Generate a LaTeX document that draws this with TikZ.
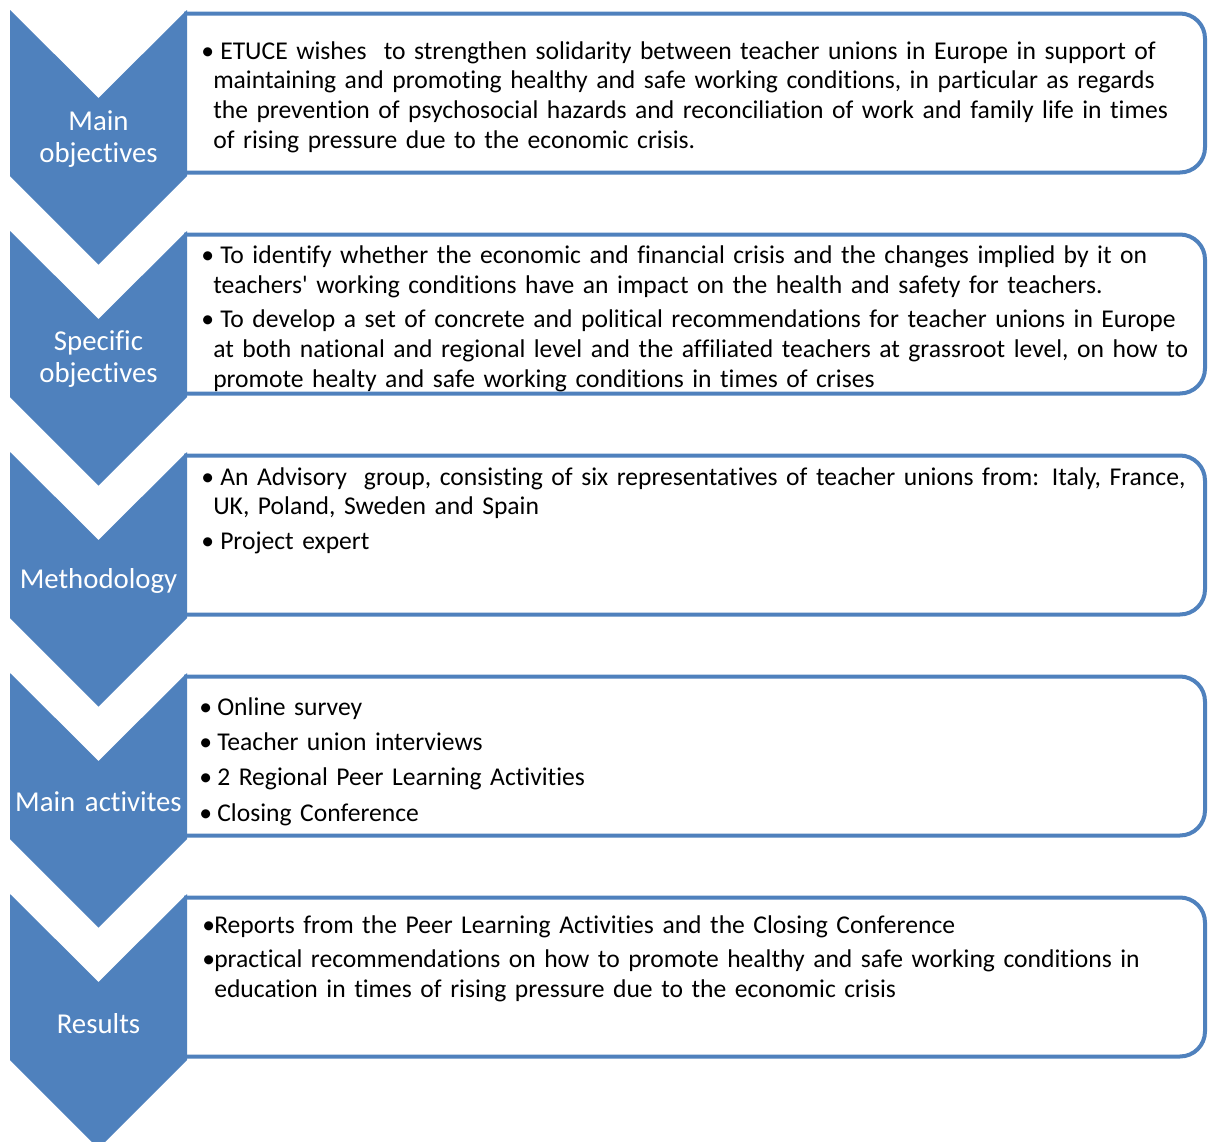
\documentclass[tikz,border=0pt]{standalone}
\usepackage{fontspec}
\newfontfamily\calfont{Carlito}[Ligatures=CommonOff]
\definecolor{cblue}{HTML}{4F81BD}
\newcommand\bodysize{\fontsize{19.2pt}{22.3pt}\selectfont}
\newcommand\labsize{\fontsize{21.6pt}{24.4pt}\selectfont}
\newcommand\itm[2][14.25pt]{\hangindent=9pt\hangafter=1\noindent\makebox[#1][l]{•}#2\par}
\begin{document}
\begin{tikzpicture}[x=0.75pt,y=-0.75pt,
  chev/.style={fill=cblue},
  panel/.style={draw=cblue,line width=3pt,fill=white,rounded corners=18.75pt},
  lab/.style={text=white,font=\calfont\labsize,align=center,text width=135pt,inner sep=0pt,anchor=base},
  body/.style={font=\calfont\bodysize,text width=820pt,inner sep=0pt,anchor=base west}]
\useasboundingbox (0,0) rectangle (1208,1142);
\foreach \t in {10,231,452,673,894}{
  \begin{scope}
    \clip (184,\t-5) rectangle (1208,\t+170);
    \draw[panel] (120,\t+3.5) rectangle (1205,\t+162.5);
  \end{scope}
  \fill[chev] (10,\t) -- (98.5,\t+88) -- (187,\t) -- (187,\t+166) -- (98.5,\t+254.5) -- (10,\t+166) -- cycle;
}
% chevron labels
\node[lab] (l1) at (98.5,130) {Main\\objectives};
\node[lab] (l2) at (98.5,350) {Specific\\objectives};
\node[lab] (l3) at (98.5,588) {Methodology};
\node[lab] (l4) at (98.5,811) {Main activites};
\node[lab] (l5) at (98.5,1033) {Results};
% panel texts
\node[body] (b1) at (201,59) {\parskip=3.6pt
\itm{ETUCE wishes~ to strengthen solidarity between teacher unions in Europe in support of\newline
maintaining and promoting healthy and safe working conditions, in particular as regards\newline
the prevention of psychosocial hazards and reconciliation of work and family life in times\newline
of rising pressure due to the economic crisis.}};
\node[body] (b2) at (201,263.5) {\parskip=3.6pt
\itm{To identify whether the economic and financial crisis and the changes implied by it on\newline
teachers' working conditions have an impact on the health and safety for teachers.}
\itm{To develop a set of concrete and political recommendations for teacher unions in Europe\newline
at both national and regional level and the affiliated teachers at grassroot level, on how to\newline
promote healty and safe working conditions in times of crises}};
\node[body] (b3) at (201,485) {\parskip=3.6pt
\itm{An Advisory~ group, consisting of six representatives of teacher unions from: Italy, France,\newline
UK, Poland, Sweden and Spain}
\itm{Project expert}};
\node[body] (b4) at (199,715.5) {\parskip=4.1pt
\itm[13.5pt]{Online survey}
\itm[13.5pt]{Teacher union interviews}
\itm[13.5pt]{2 Regional Peer Learning Activities}
\itm[13.5pt]{Closing Conference}};
\node[body] (b5) at (202,933) {\parskip=3.6pt
\itm[9pt]{Reports from the Peer Learning Activities and the Closing Conference}
\itm[9pt]{practical recommendations on how to promote healthy and safe working conditions in\newline
education in times of rising pressure due to the economic crisis}};
\end{tikzpicture}
\end{document}
